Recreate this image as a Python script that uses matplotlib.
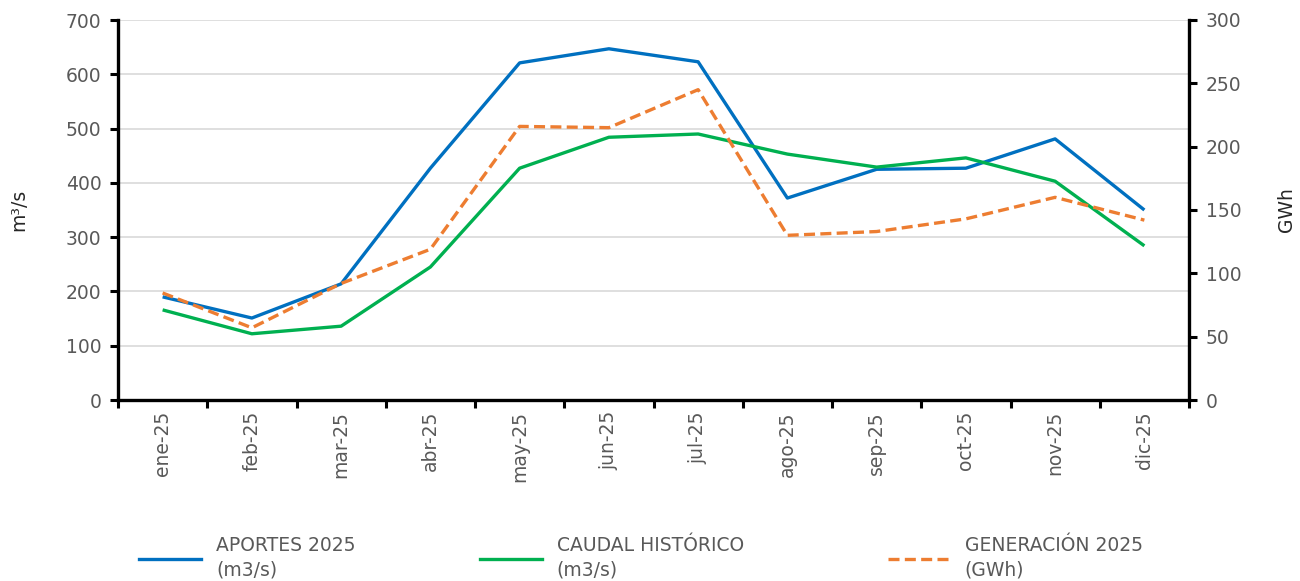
import matplotlib.pyplot as plt
from matplotlib.lines import Line2D

# data
months = ['ene-25', 'feb-25', 'mar-25', 'abr-25', 'may-25', 'jun-25',
          'jul-25', 'ago-25', 'sep-25', 'oct-25', 'nov-25', 'dic-25']
aportes = [190, 151, 214, 427, 621, 647, 623, 372, 425, 427, 481, 350]
caudal = [166, 122, 136, 245, 427, 484, 490, 453, 429, 446, 403, 284]
generacion = [84.5, 57, 92, 119, 216, 215, 245, 130, 133, 143, 160, 142]

labels = ['APORTES 2025\n(m3/s)', 'CAUDAL HISTÓRICO\n(m3/s)', 'GENERACIÓN 2025\n(GWh)']
colors = ['#0070C0', '#00B050', '#ED7D31']

plt.rcParams['font.family'] = ['DejaVu Sans']
txt = '#595959'
fs = 13.5

fig = plt.figure(figsize=(13, 5.81), dpi=100)
ax = fig.add_axes([118 / 1300, 1 - 400 / 581, (1189 - 118) / 1300, 380 / 581])
ax2 = ax.twinx()

x = range(len(months))
ax.plot(x, aportes, color=colors[0], lw=2.4, solid_capstyle='butt', zorder=3)
ax.plot(x, caudal, color=colors[1], lw=2.4, solid_capstyle='butt', zorder=3)
ax2.plot(x, generacion, color=colors[2], lw=2.4, ls=(0, (3.3, 1.6)), zorder=3)

ax.set_xlim(-0.5, len(months) - 0.5)
ax.set_ylim(0, 700)
ax2.set_ylim(0, 300)
ax.set_yticks(range(0, 701, 100))
ax2.set_yticks(range(0, 301, 50))
ax.grid(axis='y', color='#D9D9D9', lw=1.2)
ax.set_axisbelow(True)

# ticks between categories, labels at the centres
ax.set_xticks([i - 0.5 for i in range(len(months) + 1)])
ax.set_xticklabels([])
ax.set_xticks(list(x), minor=True)
ax.set_xticklabels(months, minor=True, rotation=90, color=txt, fontsize=fs)
ax.tick_params(axis='x', which='minor', length=0, pad=8)
ax.tick_params(axis='x', which='major', length=6, width=2.2, color='black')

for a in (ax, ax2):
    a.spines['top'].set_visible(False)
    for s in ('left', 'right', 'bottom'):
        a.spines[s].set_linewidth(2.4)
        a.spines[s].set_color('black')
ax.spines['right'].set_visible(False)
ax2.spines['left'].set_visible(False)
ax2.spines['bottom'].set_visible(False)

ax.tick_params(axis='y', length=6, width=2.2, labelsize=fs, labelcolor=txt, pad=6)
ax2.tick_params(axis='y', length=6, width=2.2, labelsize=fs, labelcolor=txt, pad=6)

ax.set_ylabel('m³/s', fontsize=fs, color='#262626', labelpad=27)
ax2.set_ylabel('GWh', fontsize=fs, color='#262626', labelpad=26)

# legend, three separate blocks under the plot
handles = [Line2D([], [], color=colors[0], lw=2.4),
           Line2D([], [], color=colors[1], lw=2.4),
           Line2D([], [], color=colors[2], lw=2.4, ls=(0, (3.3, 1.6)))]
xs = [139, 480, 888]
for h, lab, x0 in zip(handles, labels, xs):
    leg = fig.legend([h], [lab], loc='upper left', bbox_to_anchor=(x0 / 1300, 1 - 536 / 581),
                     frameon=False, fontsize=fs, labelcolor=txt, handlelength=3.3,
                     handletextpad=0.8, borderpad=0, borderaxespad=0)
    for t in leg.get_texts():
        t.set_linespacing(1.35)

fig.savefig('out.png', dpi=100)
